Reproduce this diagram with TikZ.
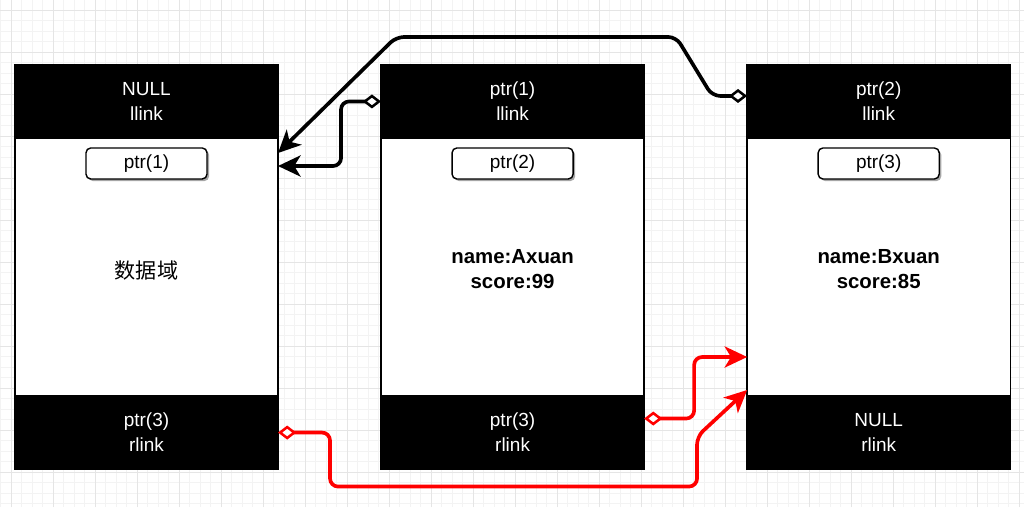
\documentclass[tikz,border=0pt]{standalone}
\usepackage{fontspec}
\setmainfont{Liberation Sans}
\newfontfamily\cjk{Noto Sans CJK SC}
\usetikzlibrary{positioning,calc,shadows,arrows.meta}
\definecolor{gridminor}{RGB}{243,243,243}
\definecolor{gridmajor}{RGB}{229,229,229}
\definecolor{rlinkred}{RGB}{255,0,0}

\begin{document}
\begin{tikzpicture}[
    x=0.025cm, y=-0.025cm,
    node distance=2.575cm,
    every node/.style={font=\fontsize{13.5}{17.8}\selectfont, outer sep=0pt},
    cell/.style={rectangle, draw=black, line width=1pt, fill=white, minimum width=6.575cm, minimum height=10.1cm, inner sep=0pt},
    band/.style={rectangle, draw=black, line width=1pt, fill=black, text=white, minimum width=6.575cm, minimum height=1.825cm, align=center, inner sep=0pt},
    ptrbox/.style={rectangle, rounded corners=0.12cm, draw=black, line width=1pt, fill=white, minimum width=3.025cm, minimum height=0.775cm, inner sep=0pt, drop shadow={shadow xshift=1.5pt, shadow yshift=-1.5pt, opacity=0.35, fill=black}},
    datatext/.style={align=center, font=\fontsize{14.5}{17.8}\selectfont\bfseries},
    link/.style={line width=2.6pt, rounded corners=0.2cm, {Diamond[fill=white, length=13pt, width=10pt, line width=1.8pt]}-{Stealth[length=16pt, width=15pt, inset=4.5pt]}},
    llinkarrow/.style={link, draw=black},
    rlinkarrow/.style={link, draw=rlinkred}
]
\useasboundingbox (0,0) rectangle (1024,507);
\fill[white] (0,0) rectangle (1024,507);

% Background grid
\begin{scope}[shift={(11,10)}]
    \draw[gridminor, line width=0.6pt, step=0.2625cm] (-11,-10) grid (1013,497);
    \draw[gridmajor, line width=0.6pt, step=1.05cm] (-11,-10) grid (1013,497);
\end{scope}

% Nodes of the list
\node[cell] (n1) at (146.5,267) {};
\node[cell, right=of n1] (n2) {};
\node[cell, right=of n2] (n3) {};

% llink bands
\node[band, below=0cm of n1.north] (n1top) {NULL\\llink};
\node[band, below=0cm of n2.north] (n2top) {ptr(1)\\llink};
\node[band, below=0cm of n3.north] (n3top) {ptr(2)\\llink};

% rlink bands
\node[band, above=0cm of n1.south] (n1bot) {ptr(3)\\rlink};
\node[band, above=0cm of n2.south] (n2bot) {ptr(3)\\rlink};
\node[band, above=0cm of n3.south] (n3bot) {NULL\\rlink};

% Own addresses
\node[ptrbox, below=0.25cm of n1top] (n1ptr) {ptr(1)};
\node[ptrbox, below=0.25cm of n2top] (n2ptr) {ptr(2)};
\node[ptrbox, below=0.25cm of n3top] (n3ptr) {ptr(3)};

% Data fields
\node[font=\cjk\fontsize{15}{17.8}\selectfont] (n1data) at ($(n1.center)+(0,3)$) {数据域};
\node[datatext] (n2data) at ($(n2.center)+(0,2)$) {name:Axuan\\score:99};
\node[datatext] (n3data) at ($(n3.center)+(0,2)$) {name:Bxuan\\score:85};

% llink pointers
\draw[llinkarrow] ($(n3top.west)+(0,-5.5)$) -- ++(-35,0) -- ++(-36,-59) -- ++(-280,0) -- ($(n1.east)+(0,-114)$);
\draw[llinkarrow] (n2top.west) -- ++(-40,0) |- ($(n1.east)+(0,-101)$);

% rlink pointers
\draw[rlinkarrow] ($(n2bot.east)+(0,-14)$) -- ++(50,0) |- ($(n3.west)+(0,90)$);
\draw[rlinkarrow] (n1bot.east) -- ++(52,0) -- ++(0,54) -- ++(367,0) -- ++(0,-50) -- ($(n3.west)+(0,123)$);

\end{tikzpicture}
\end{document}
